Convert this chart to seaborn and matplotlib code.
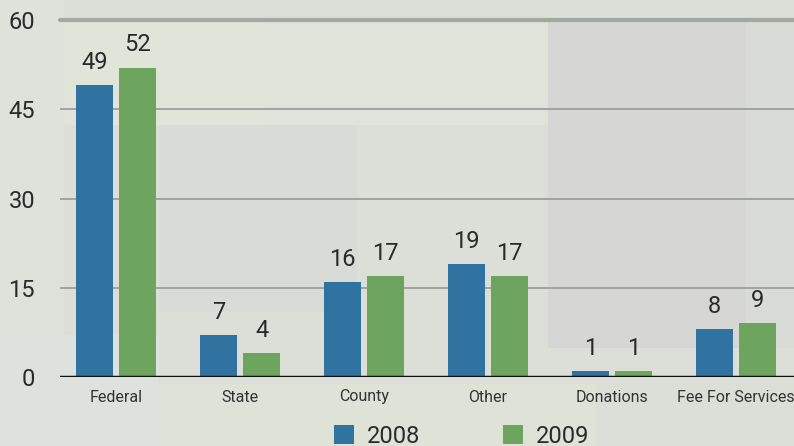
import numpy as np
import pandas as pd
import matplotlib
matplotlib.use("Agg")
import matplotlib.pyplot as plt
import seaborn as sns
from matplotlib.patches import Rectangle

categorias = ["Federal", "State", "County", "Other", "Donations", "Fee For Services"]
anos = ["2008", "2009"]
valores_2008 = [49, 7, 16, 19, 1, 8]
valores_2009 = [52, 4, 17, 17, 1, 9]
yticks = [0, 15, 30, 45, 60]

cores = {"2008": "#3173a0", "2009": "#6ea55e"}

df = pd.DataFrame({
    "Categoria": categorias * 2,
    "Ano": [anos[0]] * len(categorias) + [anos[1]] * len(categorias),
    "Valor": valores_2008 + valores_2009,
})

sns.set_theme(style="white")
plt.rcParams["font.family"] = ["Roboto", "DejaVu Sans"]

fig = plt.figure(figsize=(7.94, 4.46), dpi=100, facecolor="#dcdfd8")

# fundo em mosaico (decorativo)
fundo = [
    (0.0, 0.25, 0.08, 0.75, "#dfe1db"),
    (0.08, 0.72, 0.25, 0.24, "#e1e4d8"),
    (0.33, 0.72, 0.36, 0.24, "#e0e3da"),
    (0.69, 0.22, 0.25, 0.73, "#d6d7d4"),
    (0.94, 0.22, 0.06, 0.73, "#d9dbd6"),
    (0.20, 0.30, 0.25, 0.42, "#d9dbd7"),
    (0.0, 0.0, 0.20, 0.25, "#dee2de"),
    (0.20, 0.0, 0.55, 0.14, "#dee2d7"),
]
for x0, y0, w, h, c in fundo:
    fig.patches.append(Rectangle((x0, y0), w, h, transform=fig.transFigure,
                                 facecolor=c, edgecolor="none", zorder=-10))

ax = fig.add_axes([60 / 794, 1 - 377 / 446, 734 / 794, 357 / 446])
ax.set_facecolor("none")

sns.barplot(
    data=df, x="Categoria", y="Valor", hue="Ano",
    palette=cores, width=0.7, gap=0.14, saturation=1,
    edgecolor="none", ax=ax, legend=True,
)

ax.set_ylim(0, 60)
ax.set_xlim(-0.452, 5.467)
ax.set_yticks(yticks)
ax.set_xlabel("")
ax.set_ylabel("")

for y in yticks[1:-1]:
    ax.axhline(y, color="#a0a3a0", linewidth=1.4, zorder=0)
ax.axhline(60, color="#a2a9a1", linewidth=3, zorder=0, clip_on=False)
ax.axhline(0, color="#111111", linewidth=2.5, zorder=3)

for s in ax.spines.values():
    s.set_visible(False)

ax.tick_params(axis="y", length=0, pad=18, labelsize=17, labelcolor="#2a2a2a")
ax.tick_params(axis="x", length=0, pad=9, labelsize=11.5, labelcolor="#333333")

for cont in ax.containers:
    ax.bar_label(cont, padding=8, fontsize=17, color="#2a2a2a")

leg = ax.legend(
    loc="upper center", bbox_to_anchor=(462 / 794, 1 - 408 / 446),
    bbox_transform=fig.transFigure, ncol=2, frameon=False,
    fontsize=17, handlelength=0.85, handleheight=0.85, columnspacing=3.5,
    handletextpad=0.55, title=None, borderpad=0.2,
)
for t in leg.get_texts():
    t.set_color("#2a2a2a")

fig.savefig("out.png", dpi=100, facecolor=fig.get_facecolor())
